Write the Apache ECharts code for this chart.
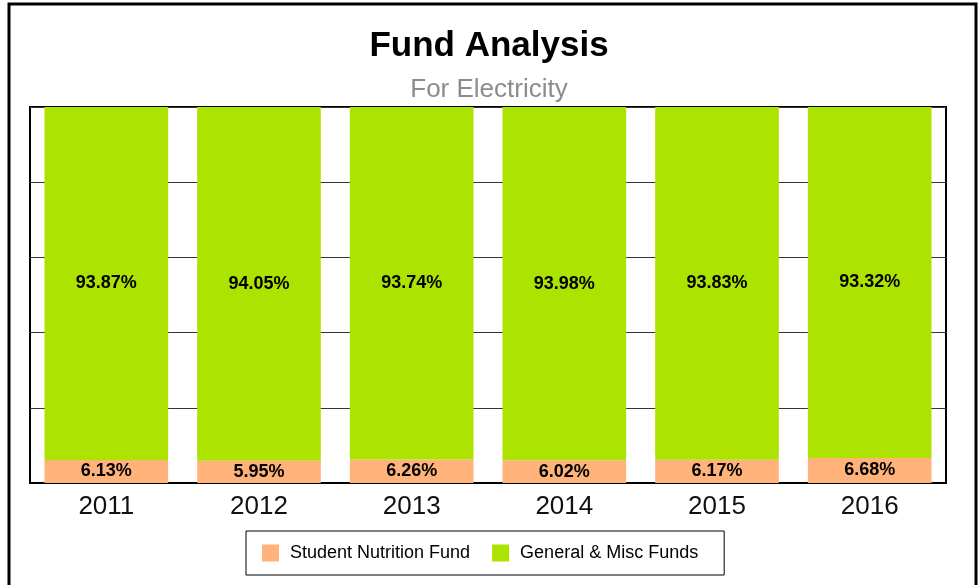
<!DOCTYPE html>
<html>
<head>
<meta charset="utf-8">
<script src="https://cdn.jsdelivr.net/npm/echarts@6/dist/echarts.min.js"></script>
<style>
html, body { margin: 0; padding: 0; background: #fff; }
#chart { width: 978px; height: 585px; }
</style>
</head>
<body>
<div id="chart"></div>
<script>
var years = ['2011', '2012', '2013', '2014', '2015', '2016'];
var nutrition = [6.13, 5.95, 6.26, 6.02, 6.17, 6.68];
var general = [93.87, 94.05, 93.74, 93.98, 93.83, 93.32];

var myChart = echarts.init(document.getElementById('chart'));

var labelStyle = {
	show: true,
	position: 'inside',
	color: '#000',
	fontSize: 18,
	fontWeight: 'bold',
	fontFamily: 'Liberation Sans, Arial, sans-serif',
	formatter: function (p) { return p.value.toFixed(2) + '%'; }
};

option = {
	animation: false,
	textStyle: { fontFamily: 'Liberation Sans, Arial, sans-serif' },
	graphic: [{
		type: 'rect',
		shape: { x: 9, y: 4, width: 967, height: 620 },
		style: { fill: null, stroke: '#000', lineWidth: 3 },
		silent: true
	}],
	title: {
		text: 'Fund Analysis',
		subtext: 'For Electricity',
		left: 'center',
		top: 24,
		itemGap: 13,
		textStyle: { fontSize: 35, fontWeight: 'bold', color: '#000' },
		subtextStyle: { fontSize: 26, color: '#8c8c8c' }
	},
	legend: {
		data: ['Student Nutrition Fund', 'General & Misc Funds'],
		left: 246,
		top: 531,
		icon: 'rect',
		itemWidth: 17,
		itemHeight: 17,
		itemGap: 22,
		padding: [13, 26, 13, 16],
		borderColor: '#000',
		borderWidth: 1,
		textStyle: { fontSize: 18, color: '#000', padding: [0, 0, 0, 6] }
	},
	grid: {
		left: 30,
		right: 32,
		top: 107,
		bottom: 102,
		show: true,
		borderColor: '#000',
		borderWidth: 2
	},
	xAxis: {
		type: 'category',
		data: years,
		axisTick: { show: false },
		axisLine: { lineStyle: { color: '#000', width: 2 } },
		axisLabel: { fontSize: 26, color: '#111', margin: 11 }
	},
	yAxis: {
		type: 'value',
		min: 0,
		max: 100,
		interval: 20,
		axisLabel: { show: false },
		axisLine: { show: false },
		axisTick: { show: false },
		splitLine: { lineStyle: { color: '#333', width: 1 } }
	},
	series: [{
		name: 'Student Nutrition Fund',
		type: 'bar',
		stack: 'total',
		barWidth: '81%',
		itemStyle: { color: '#FFB27A' },
		label: labelStyle,
		data: nutrition
	}, {
		name: 'General & Misc Funds',
		type: 'bar',
		stack: 'total',
		barWidth: '81%',
		itemStyle: { color: '#ADE300' },
		label: labelStyle,
		data: general
	}]
};
myChart.setOption(option);
</script>
</body>
</html>
